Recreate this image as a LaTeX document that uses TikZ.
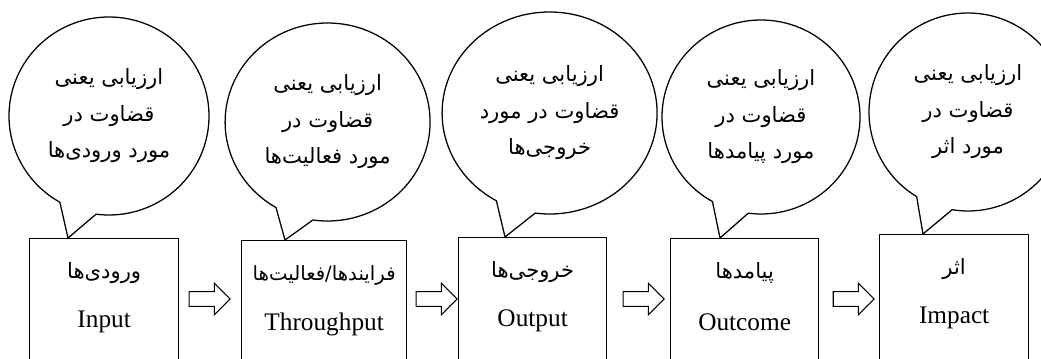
\documentclass[tikz,border=0pt]{standalone}
\usepackage{fontspec}
\setmainfont{Liberation Serif}
\newfontfamily\persianfont[Script=Arabic]{DejaVu Sans}
\TeXXeTstate=1
\newcommand{\fatext}[1]{{\persianfont\beginR #1\endR}}
\usetikzlibrary{shapes.callouts, shapes.arrows, calc}

\begin{document}
\begin{tikzpicture}[line width=0.9pt,
		stage/.style={draw, rectangle, anchor=north west, minimum height=4cm},
		bubble/.style={draw, ellipse callout, callout pointer arc=22, align=center, inner sep=0pt, font=\fontsize{15}{26}\selectfont},
		flow/.style={draw, single arrow, single arrow head extend=0.21cm, inner sep=0.17cm, minimum height=1.025cm, line width=0.8pt},
		fa/.style={anchor=center, yshift=-0.875cm, font=\fontsize{15}{18}\selectfont},
		en/.style={anchor=center, yshift=-2.1cm, font=\fontsize{18}{22}\selectfont}]
		\useasboundingbox (0,0) rectangle (26.025,-8.975);
		\clip (0,0) rectangle (26.025,-8.975);
		% stages (the boxes run off the bottom edge)
		\node[stage, minimum width=3.725cm, label={[fa] north:\fatext{ورودی‌ها}}, label={[en] north:Input}] (in) at (0.725, -5.95) {};
		\node[stage, minimum width=4.125cm, label={[fa, font=\fontsize{14}{18}\selectfont] north:\fatext{فرایندها/فعالیت‌ها}}, label={[en] north:Throughput}] (thr) at (6.025, -6.0) {};
		\node[stage, minimum width=3.7cm, label={[fa] north:\fatext{خروجی‌ها}}, label={[en] north:Output}] (out) at (11.45, -5.925) {};
		\node[stage, minimum width=3.7cm, label={[fa] north:\fatext{پیامدها}}, label={[en] north:Outcome}] (outc) at (16.75, -5.95) {};
		\node[stage, minimum width=3.725cm, label={[fa] north:\fatext{اثر}}, label={[en] north:Impact}] (imp) at (21.975, -5.85) {};
		% evaluation bubbles
		\node[bubble, minimum width=5cm, minimum height=4.95cm, callout absolute pointer={($(in.north west)+(0.975,0)$)}] (in_eval) at (2.725, -2.9) {\fatext{ارزیابی یعنی}\\\fatext{قضاوت در}\\\fatext{مورد ورودی‌ها}};
		\node[bubble, minimum width=5.125cm, minimum height=4.95cm, callout absolute pointer={($(thr.north west)+(1.1,0)$)}] (thr_eval) at (8.19, -3.05) {\fatext{ارزیابی یعنی}\\\fatext{قضاوت در}\\\fatext{مورد فعالیت‌ها}};
		\node[bubble, minimum width=5.375cm, minimum height=5.05cm, callout absolute pointer={($(out.north west)+(1.175,0)$)}] (out_eval) at (13.74, -2.825) {\fatext{ارزیابی یعنی}\\\fatext{قضاوت در مورد}\\\fatext{خروجی‌ها}};
		\node[bubble, minimum width=4.95cm, minimum height=4.85cm, callout absolute pointer={($(outc.north west)+(1.25,0)$)}] (outc_eval) at (19.025, -2.925) {\fatext{ارزیابی یعنی}\\\fatext{قضاوت در}\\\fatext{مورد پیامدها}};
		\node[bubble, minimum width=4.95cm, minimum height=4.95cm, callout absolute pointer={($(imp.north west)+(1.1,0)$)}] (imp_eval) at (24.2, -2.8) {\fatext{ارزیابی یعنی}\\\fatext{قضاوت در}\\\fatext{مورد اثر}};
		% block arrows between the stages
		\node[flow] (a1) at (5.15, -7.475) {};
		\node[flow] (a2) at (10.825, -7.475) {};
		\node[flow] (a3) at (16.0, -7.475) {};
		\node[flow] (a4) at (21.25, -7.475) {};
	\end{tikzpicture}
\end{document}
